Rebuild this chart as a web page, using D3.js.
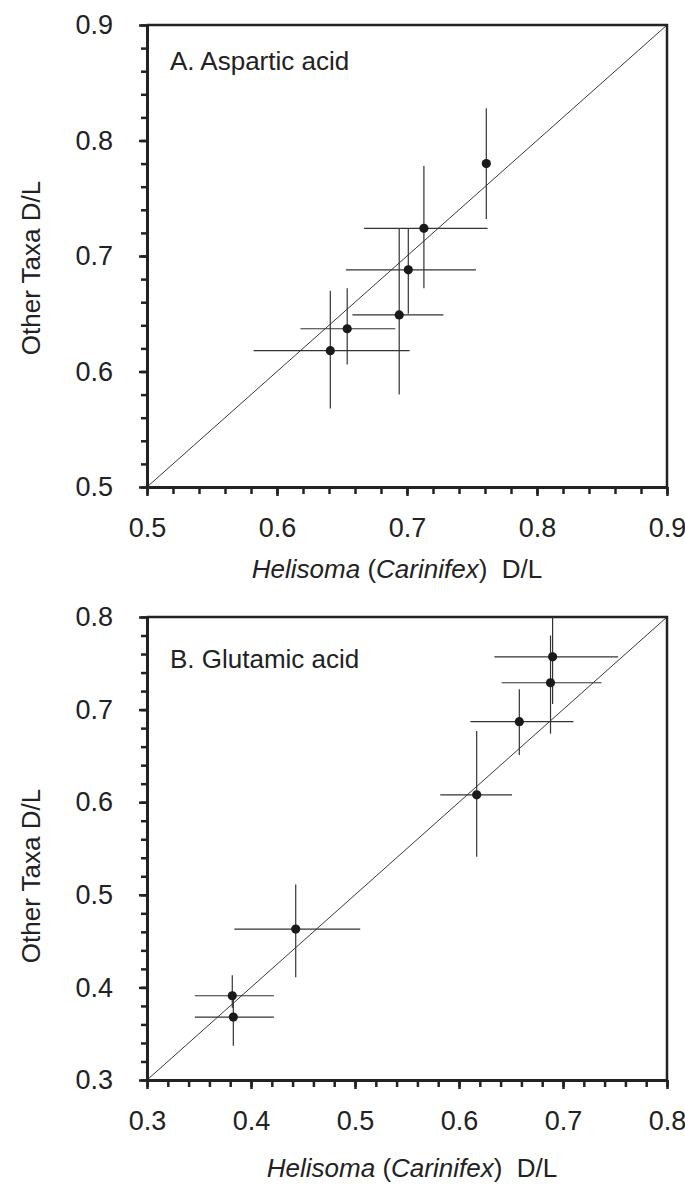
<!DOCTYPE html>
<html>
<head>
<meta charset="utf-8">
<script src="https://cdn.jsdelivr.net/npm/d3@7"></script>
<style>
  body { margin: 0; background: #fff; }
  svg { display: block; font-family: "Liberation Sans", Arial, sans-serif; }
  .axis path { stroke: #222; stroke-width: 3; }
  .axis line { stroke: #222; stroke-width: 2.5; }
  .axis text { fill: #222; font-size: 27px; }
  .title { fill: #222; font-size: 26px; white-space: pre; }
</style>
</head>
<body>
<div id="chart"></div>
<script>
// A. Aspartic acid
var aspX    = [0.761, 0.713, 0.701, 0.694, 0.654, 0.641];
var aspY    = [0.780, 0.724, 0.688, 0.649, 0.637, 0.618];
var aspXLo  = [null,  0.667, 0.653, 0.658, 0.618, 0.582];
var aspXHi  = [null,  0.762, 0.753, 0.728, 0.691, 0.702];
var aspYLo  = [0.732, 0.672, 0.650, 0.580, 0.606, 0.568];
var aspYHi  = [0.828, 0.778, 0.724, 0.724, 0.672, 0.670];
var aspTicks = [0.5, 0.6, 0.7, 0.8, 0.9];

// B. Glutamic acid
var gluX    = [0.690, 0.688, 0.658, 0.617, 0.443, 0.382, 0.383];
var gluY    = [0.757, 0.729, 0.687, 0.608, 0.463, 0.391, 0.368];
var gluXLo  = [0.634, 0.641, 0.611, 0.582, 0.384, 0.346, 0.346];
var gluXHi  = [0.753, 0.737, 0.710, 0.651, 0.505, 0.422, 0.422];
var gluYLo  = [0.706, 0.674, 0.651, 0.541, 0.411, 0.378, 0.337];
var gluYHi  = [0.800, 0.780, 0.722, 0.677, 0.511, 0.413, 0.389];
var gluTicks = [0.3, 0.4, 0.5, 0.6, 0.7, 0.8];

var svg = d3.select('#chart').append('svg')
    .attr('width', 685)
    .attr('height', 1186);

function toRows(xs, ys, xlo, xhi, ylo, yhi){
    return xs.map(function(x, i){
        return {x: x, y: ys[i], xlo: xlo[i], xhi: xhi[i], ylo: ylo[i], yhi: yhi[i]};
    });
}

function panel(m, rows, ticks){
    var lo = ticks[0], hi = ticks[ticks.length - 1];
    var x = d3.scaleLinear().domain([lo, hi]).range([m.left, m.right]);
    var y = d3.scaleLinear().domain([lo, hi]).range([m.bottom, m.top]);
    var minors = d3.range(Math.round(lo * 100), Math.round(hi * 100) + 1, 2).map(function(d){ return d / 100; });
    var fmt = d3.format('.1f');
    var g = svg.append('g');

    // frame (top and right sides)
    g.append('path')
        .attr('d', 'M' + m.left + ',' + m.top + 'H' + m.right + 'V' + m.bottom)
        .attr('fill', 'none')
        .attr('stroke', '#222')
        .attr('stroke-width', 2.5);

    // minor ticks
    g.append('g').attr('class', 'axis')
        .attr('transform', 'translate(0,' + m.bottom + ')')
        .call(d3.axisBottom(x).tickValues(minors).tickSize(7).tickSizeOuter(0).tickFormat(''));
    g.append('g').attr('class', 'axis')
        .attr('transform', 'translate(' + m.left + ',0)')
        .call(d3.axisLeft(y).tickValues(minors).tickSize(6).tickSizeOuter(0).tickFormat(''));

    // major ticks + labels
    g.append('g').attr('class', 'axis')
        .attr('transform', 'translate(0,' + m.bottom + ')')
        .call(d3.axisBottom(x).tickValues(ticks).tickSize(9).tickSizeOuter(0).tickPadding(22).tickFormat(fmt));
    g.append('g').attr('class', 'axis')
        .attr('transform', 'translate(' + m.left + ',0)')
        .call(d3.axisLeft(y).tickValues(ticks).tickSize(8).tickSizeOuter(0).tickPadding(26).tickFormat(fmt));
    g.selectAll('.axis').attr('font-size', null).attr('font-family', null);

    // 1:1 line
    g.append('line')
        .attr('x1', x(lo)).attr('y1', y(lo))
        .attr('x2', x(hi)).attr('y2', y(hi))
        .attr('stroke', '#222')
        .attr('stroke-width', 0.9);

    // error bars
    g.selectAll('.xerr')
        .data(rows.filter(function(d){ return d.xlo !== null; }))
        .enter().append('line')
          .attr('class', 'xerr')
          .attr('x1', function(d){ return x(d.xlo); })
          .attr('x2', function(d){ return x(d.xhi); })
          .attr('y1', function(d){ return y(d.y); })
          .attr('y2', function(d){ return y(d.y); })
          .attr('stroke', '#333')
          .attr('stroke-width', 1.2);
    g.selectAll('.yerr')
        .data(rows)
        .enter().append('line')
          .attr('class', 'yerr')
          .attr('x1', function(d){ return x(d.x); })
          .attr('x2', function(d){ return x(d.x); })
          .attr('y1', function(d){ return y(d.ylo); })
          .attr('y2', function(d){ return y(d.yhi); })
          .attr('stroke', '#333')
          .attr('stroke-width', 1.2);

    g.selectAll('.dot')
        .data(rows)
        .enter().append('circle')
          .attr('class', 'dot')
          .attr('cx', function(d){ return x(d.x); })
          .attr('cy', function(d){ return y(d.y); })
          .attr('r', 4.6)
          .attr('fill', '#1a1a1a');

    // texts
    g.append('text').attr('class', 'title')
        .attr('x', 170).attr('y', m.top + m.labelDy)
        .text(m.label);

    var xt = g.append('text').attr('class', 'title')
        .attr('x', m.xTitleX).attr('y', m.xTitleY)
        .attr('text-anchor', 'middle');
    xt.append('tspan').attr('font-style', 'italic').text('Helisoma');
    xt.append('tspan').text(' (');
    xt.append('tspan').attr('font-style', 'italic').text('Carinifex');
    xt.append('tspan').text(')  D/L');

    g.append('text').attr('class', 'title')
        .attr('transform', 'translate(40,' + m.yTitleY + ') rotate(-90)')
        .attr('text-anchor', 'middle')
        .text('Other Taxa D/L');
}

panel({left: 147, right: 667, top: 25, bottom: 487, label: 'A. Aspartic acid', labelDy: 45,
       xTitleX: 397, xTitleY: 578, yTitleY: 268},
      toRows(aspX, aspY, aspXLo, aspXHi, aspYLo, aspYHi), aspTicks);

panel({left: 147, right: 667, top: 617, bottom: 1080, label: 'B. Glutamic acid', labelDy: 51,
       xTitleX: 412, xTitleY: 1177, yTitleY: 876},
      toRows(gluX, gluY, gluXLo, gluXHi, gluYLo, gluYHi), gluTicks);
</script>
</body>
</html>
